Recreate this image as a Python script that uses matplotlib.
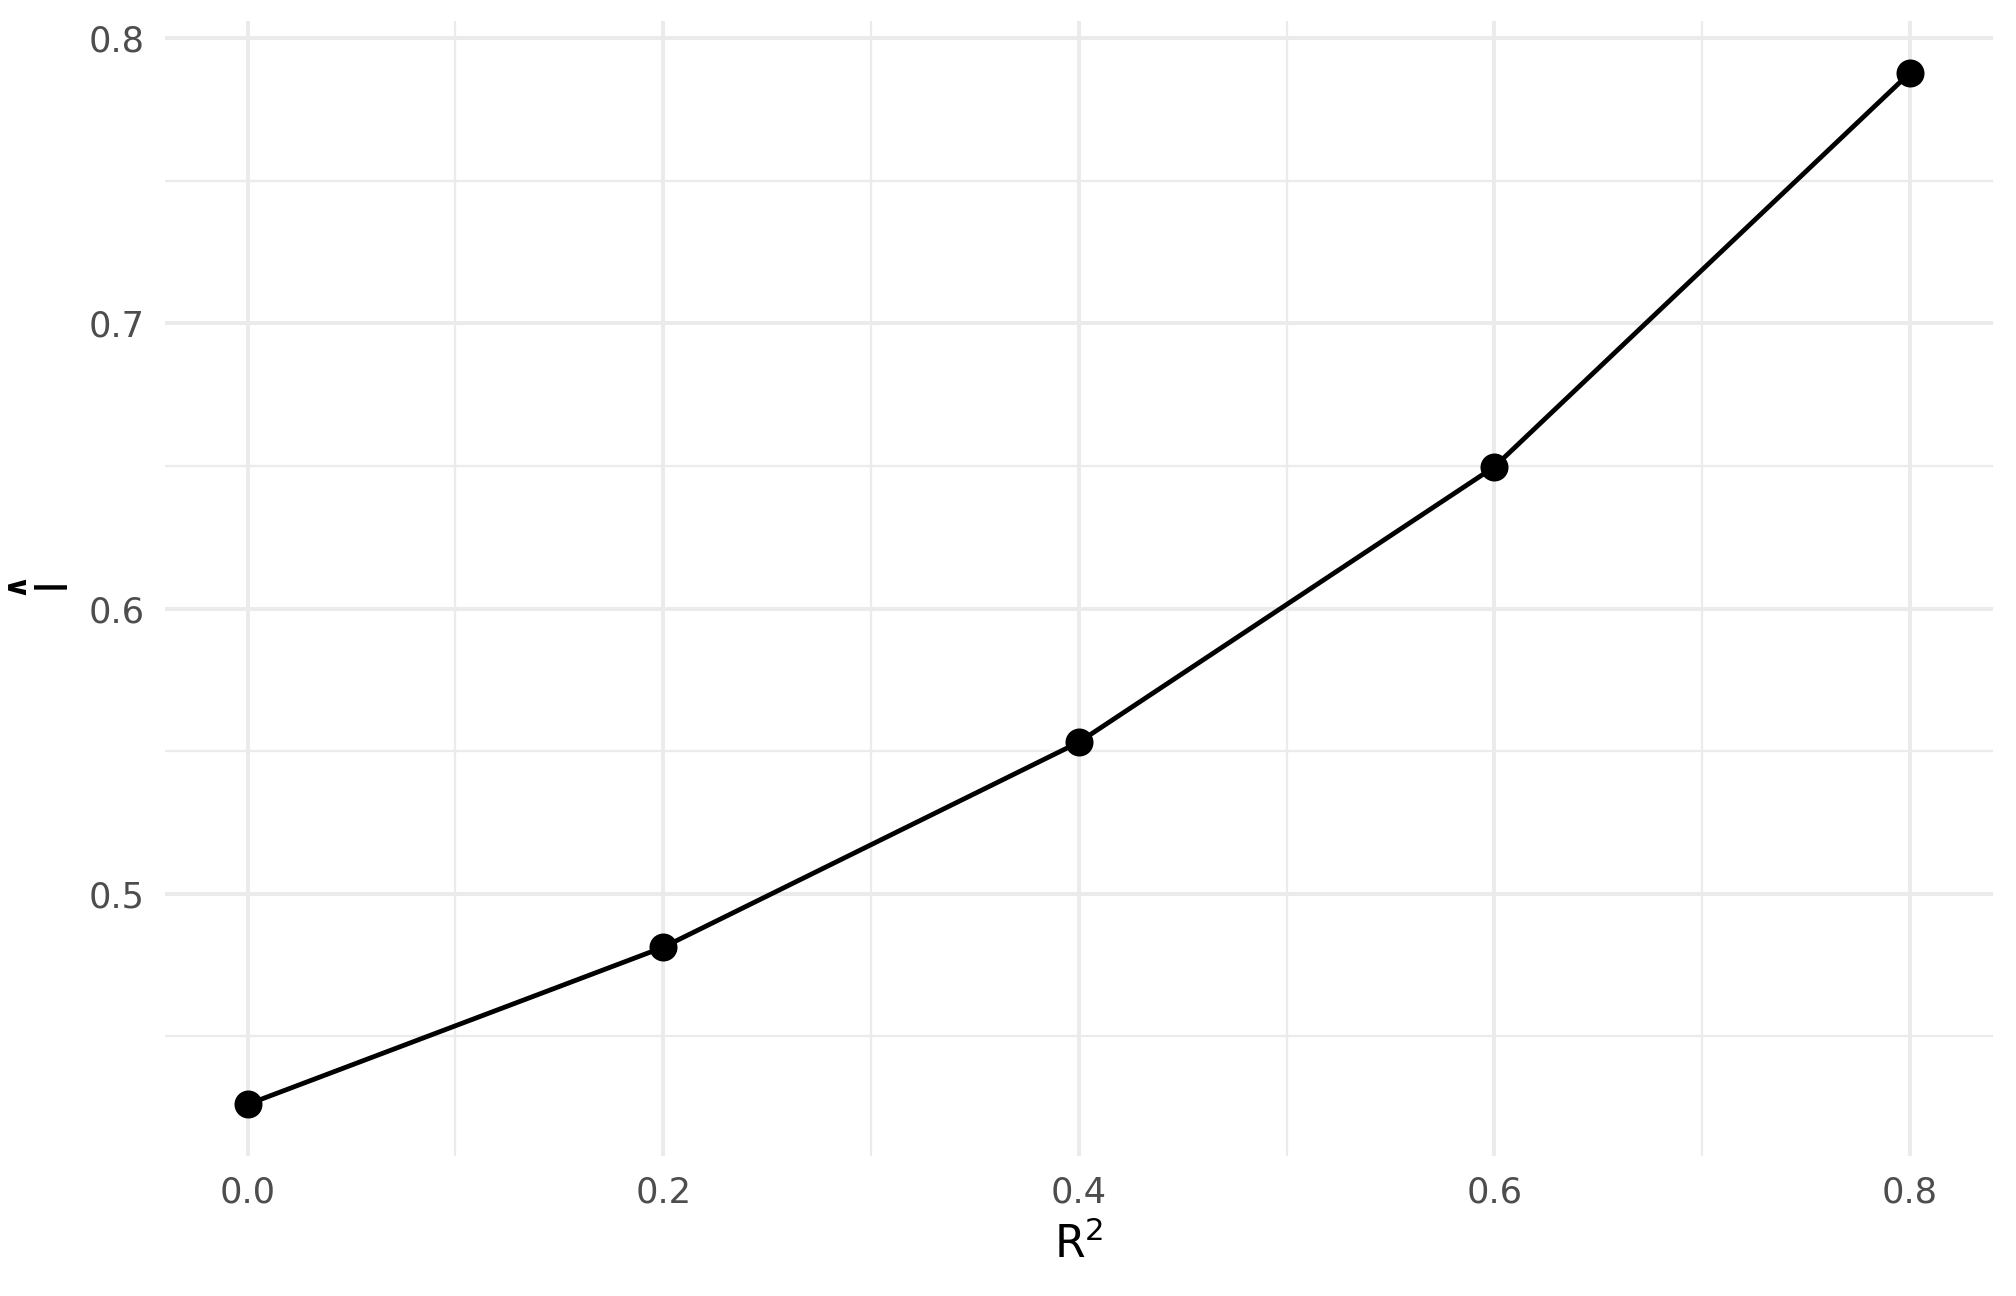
import matplotlib
matplotlib.use("Agg")
import matplotlib.pyplot as plt
from matplotlib.ticker import FixedLocator

plt.rcParams['font.family'] = ['DejaVu Sans']
plt.rcParams['mathtext.fontset'] = 'dejavusans'

# data
r2 = [0.0, 0.2, 0.4, 0.6, 0.8]
values = [0.4261, 0.4812, 0.5531, 0.6497, 0.7879]

x_major = [0.0, 0.2, 0.4, 0.6, 0.8]
x_minor = [0.1, 0.3, 0.5, 0.7]
x_labels = ["0.0", "0.2", "0.4", "0.6", "0.8"]
y_major = [0.5, 0.6, 0.7, 0.8]
y_minor = [0.45, 0.55, 0.65, 0.75]
y_labels = ["0.5", "0.6", "0.7", "0.8"]

W, H = 2016, 1296
fig = plt.figure(figsize=(7, 4.5), dpi=288)
left, right, top, bottom = 164.6, 1993.1, 21.2, 1155.9
ax = fig.add_axes([left / W, (H - bottom) / H, (right - left) / W, (bottom - top) / H])

ax.plot(r2, values, color='black', lw=1.2, zorder=3, solid_capstyle='butt')
ax.plot(r2, values, 'o', color='black', ms=6, zorder=4)

ax.set_xlim(-0.04, 0.84)
ymin, ymax = min(values), max(values)
pad = (ymax - ymin) * 0.05
ax.set_ylim(ymin - pad, ymax + pad)

ax.xaxis.set_major_locator(FixedLocator(x_major))
ax.xaxis.set_minor_locator(FixedLocator(x_minor))
ax.yaxis.set_major_locator(FixedLocator(y_major))
ax.yaxis.set_minor_locator(FixedLocator(y_minor))
ax.set_xticklabels(x_labels)
ax.set_yticklabels(y_labels)

ax.grid(which='major', color='#EBEBEB', lw=1.0, zorder=0)
ax.grid(which='minor', color='#EBEBEB', lw=0.55, zorder=0)
ax.set_axisbelow(True)
for s in ax.spines.values():
    s.set_visible(False)
ax.tick_params(which='both', length=0)
ax.tick_params(axis='both', which='major', labelsize=8.8, labelcolor='#4D4D4D', pad=5)

ax.set_xlabel(r'R$^{2}$', fontsize=11, color='black', labelpad=3)

# y label: I-hat
ax.set_ylabel(r'$\overset{\mathbf{\wedge}}{\mathrm{I}}$', fontsize=11, color='black')
ax.yaxis.label.set_va('baseline')
ax.yaxis.set_label_coords((69 - left) / (right - left), 0.5)

fig.savefig('out.png', dpi=288, facecolor='white')
